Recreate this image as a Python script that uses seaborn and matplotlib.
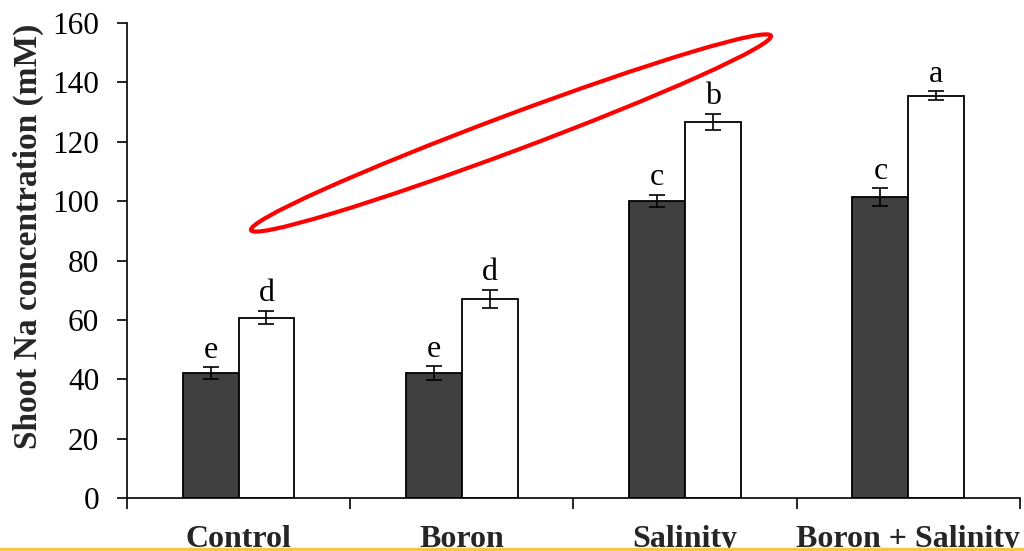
import numpy as np
import pandas as pd
import seaborn as sns
import matplotlib.pyplot as plt
from matplotlib.patches import Ellipse
from matplotlib.lines import Line2D

categories = ["Control", "Boron", "Salinity", "Boron + Salinity"]
series_names = ["Series 1", "Series 2"]
series1_values = [42.0, 42.0, 100.0, 101.3]
series2_values = [60.8, 67.0, 126.7, 135.5]
series1_err = [2.0, 2.3, 2.0, 3.0]
series2_err = [2.3, 3.0, 2.6, 1.5]
series1_letters = ["e", "e", "c", "c"]
series2_letters = ["d", "d", "b", "a"]
y_ticks = [0, 20, 40, 60, 80, 100, 120, 140, 160]
y_label = "Shoot Na concentration (mM)"

df = pd.DataFrame({
    "category": categories * 2,
    "series": [series_names[0]] * 4 + [series_names[1]] * 4,
    "value": series1_values + series2_values,
})

sns.set_theme(style="white")
plt.rcParams["font.family"] = ["Liberation Serif", "DejaVu Serif"]

fig = plt.figure(figsize=(10.24, 5.51), dpi=100)
ax = fig.add_axes([0.124, 0.0962, 0.872, 0.862])

sns.barplot(data=df, x="category", y="value", hue="series", order=categories,
            hue_order=series_names, palette=["#404040", "#ffffff"],
            width=0.5, gap=0, errorbar=None, edgecolor="black", linewidth=1.3,
            legend=False, ax=ax)

errs = series1_err + series2_err
letters = series1_letters + series2_letters
vals = series1_values + series2_values
bars = [p for p in ax.patches][:8]
for p, v, e, lt in zip(bars, vals, errs, letters):
    xc = p.get_x() + p.get_width() / 2
    ax.errorbar(xc, v, yerr=e, fmt="none", ecolor="black", elinewidth=1.2,
                capsize=6, capthick=1.2, zorder=5)
    ax.annotate(lt, (xc, v + e), xytext=(0, 2), textcoords="offset points",
                ha="center", va="bottom", fontsize=23, color="black")

ax.set_ylim(0, 160)
ax.set_xlim(-0.5, 3.5)
ax.set_yticks(y_ticks)
ax.set_yticklabels([str(t) for t in y_ticks], fontsize=22.5)
ax.set_xticks([-0.5, 0.5, 1.5, 2.5, 3.5], minor=False)
ax.set_xticklabels([])
ax.set_xticks([0, 1, 2, 3], minor=True)
ax.set_xticklabels(categories, minor=True, fontsize=23, fontweight="bold")
ax.tick_params(axis="x", which="major", direction="out", length=8, width=1.2,
               color="black", bottom=True)
ax.tick_params(axis="x", which="minor", length=0, pad=19.5, bottom=True)
ax.tick_params(axis="y", direction="out", length=7, width=1.2, color="black",
               left=True, pad=13, labelcolor="black")
ax.set_xlabel("")
ax.set_ylabel(y_label, fontsize=24, fontweight="bold")
ax.yaxis.set_label_coords(-0.093, 0.55)
for s in ["top", "right"]:
    ax.spines[s].set_visible(False)
for s in ["left", "bottom"]:
    ax.spines[s].set_color("black")
    ax.spines[s].set_linewidth(1.2)
ax.set_facecolor("white")
fig.patch.set_facecolor("white")

# red annotation ellipse
ell = Ellipse((5.11, (551 - 133) / 100), width=5.55, height=0.36, angle=20.5,
              transform=fig.dpi_scale_trans, fill=False, edgecolor="#ff0000",
              linewidth=3.0, zorder=10)
fig.add_artist(ell)

# yellow line at bottom
fig.add_artist(Line2D([0, 1], [2.5 / 551, 2.5 / 551], transform=fig.transFigure,
                      color="#f3c940", linewidth=2.5, zorder=20))

fig.savefig("out.png", dpi=100, facecolor="white")
